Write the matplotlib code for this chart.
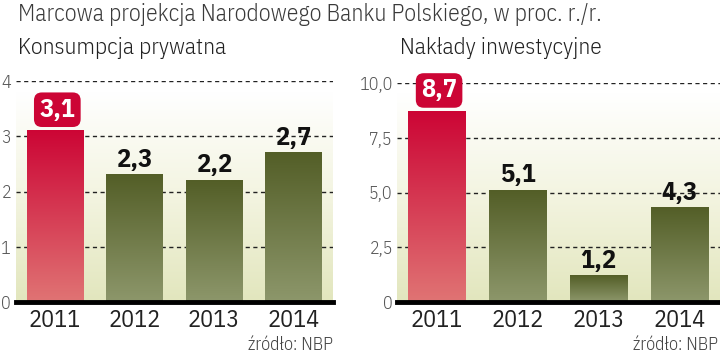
import numpy as np
import matplotlib
matplotlib.use("Agg")
import matplotlib.pyplot as plt
from matplotlib.colors import LinearSegmentedColormap

years = ["2011", "2012", "2013", "2014"]
konsumpcja = [3.1, 2.3, 2.2, 2.7]
inwestycje = [8.7, 5.1, 1.2, 4.3]
labels_k = ["3,1", "2,3", "2,2", "2,7"]
labels_i = ["8,7", "5,1", "1,2", "4,3"]
ticks_k = [0, 1, 2, 3, 4]
ticklabels_k = ["0", "1", "2", "3", "4"]
ticks_i = [0, 2.5, 5.0, 7.5, 10.0]
ticklabels_i = ["0", "2,5", "5,0", "7,5", "10,0"]

W, H = 720, 356
FONT = ["IBM Plex Sans Condensed", "Roboto", "DejaVu Sans"]

red_cmap = LinearSegmentedColormap.from_list("r", ["#e07474", "#cc0535"])
green_cmap = LinearSegmentedColormap.from_list("g", ["#8d976b", "#535e27"])
bg_cmap = LinearSegmentedColormap.from_list("bg", ["#e2e6bd", "#f3f4e0", "#ffffff"])

fig = plt.figure(figsize=(W / 100, H / 100), dpi=100)
fig.patch.set_facecolor("white")


def panel(rect, values, labels, ticks, ticklabels, ymax, ypad):
    ax = fig.add_axes([rect[0] / W, rect[1] / H, rect[2] / W, rect[3] / H])
    ax.set_xlim(-0.49, 3.5)
    ax.set_ylim(0, ymax)
    px = ymax / rect[3]  # data units per pixel
    grad = np.linspace(0, 1, 256).reshape(-1, 1)
    ax.imshow(grad, cmap=bg_cmap, extent=[-0.49, 3.5, 0, ymax * 0.95],
              origin="lower", aspect="auto", zorder=0)
    for t in ticks[1:]:
        ax.axhline(t, color="#222222", lw=1.0, ls=(0, (3, 2.5)), zorder=1)
    bars = ax.bar(range(len(values)), values, width=0.71, color="none", zorder=2)
    for i, b in enumerate(bars):
        cm = red_cmap if i == 0 else green_cmap
        x0 = b.get_x()
        ax.imshow(grad, cmap=cm, extent=[x0, x0 + b.get_width(), 0, b.get_height()],
                  origin="lower", aspect="auto", zorder=2)
    ax.axhline(0, color="black", lw=3.5, zorder=4, clip_on=False)
    for i, (v, lab) in enumerate(zip(values, labels)):
        if i == 0:
            ax.text(i + 0.03, v + 14 * px, lab, ha="center", va="baseline", fontsize=19,
                    fontweight="bold", color="white", family=FONT, zorder=6,
                    bbox=dict(boxstyle="round,pad=0.2,rounding_size=0.3",
                              fc="#cc0535", ec="none"))
        else:
            ax.text(i, v + 8 * px, lab, ha="center", va="baseline", fontsize=19,
                    fontweight="bold", color="#111111", family=FONT, zorder=6)
    ax.set_xticks(range(len(values)))
    ax.set_xticklabels(years, fontsize=17.5, family=FONT, color="#222222")
    ax.tick_params(axis="x", length=0, pad=5)
    ax.set_yticks(ticks)
    ax.set_yticklabels(ticklabels, fontsize=13, family=FONT, fontweight=300,
                       color="#555555")
    ax.tick_params(axis="y", length=0, pad=ypad)
    for s in ax.spines.values():
        s.set_visible(False)
    return ax


panel((16, 54, 317, 221), konsumpcja, labels_k, ticks_k, ticklabels_k, 4, 3.5)
panel((397, 54, 323, 219), inwestycje, labels_i, ticks_i, ticklabels_i, 10, 3.0)

fig.text(18 / W, 1 - 21 / H, "Marcowa projekcja Narodowego Banku Polskiego, w proc. r./r.",
         fontsize=17, family=FONT, fontweight=300, color="#3a3a3a", va="baseline", ha="left")
fig.text(18 / W, 1 - 54 / H, "Konsumpcja prywatna", fontsize=16.8, family=FONT,
         fontweight=300, color="#222222", va="baseline", ha="left")
fig.text(400 / W, 1 - 54 / H, "Nakłady inwestycyjne", fontsize=16.8, family=FONT,
         fontweight=300, color="#222222", va="baseline", ha="left")
fig.text(333 / W, 1 - 350 / H, "źródło: NBP", fontsize=13, family=FONT,
         fontweight=300, color="#444444", va="baseline", ha="right")
fig.text(718 / W, 1 - 350 / H, "źródło: NBP", fontsize=13, family=FONT,
         fontweight=300, color="#444444", va="baseline", ha="right")

fig.savefig("out.png", dpi=100)
